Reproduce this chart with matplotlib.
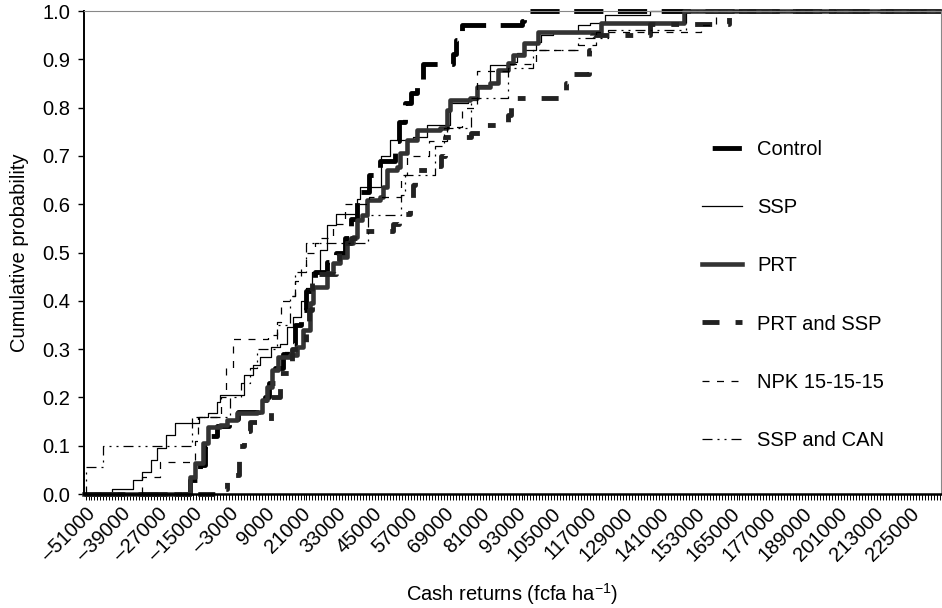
import numpy as np
import matplotlib.pyplot as plt

plt.rcParams['font.family'] = ['Liberation Sans', 'DejaVu Sans']
plt.rcParams['mathtext.default'] = 'regular'

# empirical CDFs: value where the step occurs (fcfa/ha) and probability after it
control_x = [-16000, -12500, -11000, -9500, -7000, -3000, 0, 7000, 9000, 10500, 12500, 15000,
             16500, 19000, 21000, 23000, 26000, 30000, 33000, 36000, 38000, 40000, 41000, 44000,
             47500, 52500, 54000, 56000, 58000, 60000, 62000, 72000, 73000, 75000, 95000, 96000]
control_y = [0.03, 0.06, 0.10, 0.12, 0.14, 0.155, 0.17, 0.18, 0.20, 0.23, 0.26, 0.29,
             0.31, 0.35, 0.38, 0.42, 0.46, 0.48, 0.50, 0.53, 0.57, 0.61, 0.625, 0.66,
             0.69, 0.73, 0.77, 0.81, 0.83, 0.85, 0.89, 0.91, 0.94, 0.97, 0.98, 1.0]

ssp_x = [-42000, -35000, -32000, -29000, -27000, -24000, -21000, -13000, -10000, -7000, -6000,
         2000, 5000, 7500, 11000, 14000, 16500, 18500, 21000, 23000, 25000, 27500, 30000, 33000,
         40000, 41000, 48000, 51000, 58800, 63500, 71000, 77000, 80000, 84600, 90600, 93600,
         95700, 100000, 101400, 105600, 113800, 118100, 123000, 138000]
ssp_y = [0.01, 0.03, 0.046, 0.07, 0.095, 0.122, 0.147, 0.16, 0.168, 0.19, 0.205,
         0.246, 0.267, 0.284, 0.304, 0.31, 0.346, 0.366, 0.40, 0.427, 0.46, 0.505, 0.557, 0.58,
         0.61, 0.636, 0.70, 0.733, 0.739, 0.764, 0.81, 0.816, 0.847, 0.888, 0.894, 0.913,
         0.919, 0.936, 0.95, 0.954, 0.971, 0.975, 0.992, 1.0]

prt_x = [-16000, -14300, -11600, -9900, -6000, -3600, -200, 6500, 8200, 9800, 11500, 13500,
         17500, 19900, 21900, 24300, 25300, 29900, 32000, 34300, 36700, 38700, 40000, 41700,
         43400, 47700, 48700, 50100, 53400, 54400, 56800, 60100, 67800, 70200, 71200, 77900,
         80200, 84600, 87000, 90600, 92300, 95700, 100400, 121500, 149300]
prt_y = [0.035, 0.064, 0.106, 0.139, 0.143, 0.153, 0.168, 0.17, 0.195, 0.222, 0.257, 0.284,
         0.288, 0.304, 0.34, 0.395, 0.429, 0.458, 0.478, 0.491, 0.52, 0.532, 0.567, 0.578,
         0.609, 0.615, 0.636, 0.671, 0.677, 0.706, 0.733, 0.754, 0.758, 0.795, 0.816, 0.82,
         0.843, 0.851, 0.878, 0.892, 0.909, 0.934, 0.956, 0.975, 1.0]

prt_ssp_x = [-6000, -3500, -1000, 500, 2000, 4000, 11000, 14000, 18000, 23000, 24000, 25000,
             33000, 34000, 38000, 40000, 52000, 54000, 57800, 58500, 59400, 64000, 68000, 69500,
             78000, 83000, 90500, 91500, 110000, 111500, 117500, 118500, 138000, 164500]
prt_ssp_y = [0.01, 0.025, 0.04, 0.10, 0.13, 0.15, 0.20, 0.25, 0.30, 0.34, 0.38, 0.455,
             0.48, 0.52, 0.53, 0.545, 0.56, 0.58, 0.61, 0.64, 0.67, 0.68, 0.70, 0.74,
             0.747, 0.765, 0.785, 0.82, 0.85, 0.87, 0.92, 0.95, 0.973, 1.0]

npk_x = [-32000, -26000, -14300, -13500, -5500, -4000, -1500, 10000, 13000, 14500, 18000, 19000,
         21000, 23000, 26000, 28000, 32000, 36000, 44000, 54500, 56800, 64000, 70000, 75000,
         80000, 91000, 100000, 114000, 120000, 155000, 160000]
npk_y = [0.035, 0.066, 0.11, 0.16, 0.20, 0.26, 0.32, 0.33, 0.356, 0.40, 0.41, 0.44,
         0.468, 0.50, 0.52, 0.53, 0.56, 0.60, 0.615, 0.66, 0.70, 0.73, 0.76, 0.80,
         0.876, 0.89, 0.919, 0.93, 0.957, 0.97, 1.0]

ssp_can_x = [-51000, -45000, -15500, -2500, 1000, 4000, 6500, 13000, 17500, 19000, 23000,
             43500, 54500, 56000, 66000, 69000, 78000, 90600, 99000, 113800, 124000, 150000]
ssp_can_y = [0.056, 0.10, 0.16, 0.20, 0.23, 0.26, 0.30, 0.35, 0.41, 0.46, 0.52,
             0.578, 0.62, 0.66, 0.72, 0.758, 0.82, 0.882, 0.92, 0.944, 0.96, 1.0]

x_min, x_max = -51500, 235500
tick_vals = np.arange(-51000, 235001, 1000)
label_vals = np.arange(-51000, 225001, 12000)
fs = 14.5

fig = plt.figure(figsize=(9.42, 6.08), dpi=100)
ax = fig.add_axes([0.0892, 0.1875, 0.9098, 0.7944])

series = [
    ('Control', control_x, control_y, dict(color='black', lw=3.5, ls=(6.9, (6, 3)))),
    ('SSP', ssp_x, ssp_y, dict(color='black', lw=0.9, ls='-')),
    ('PRT', prt_x, prt_y, dict(color='#333333', lw=3.3, ls='-')),
    ('PRT and SSP', prt_ssp_x, prt_ssp_y, dict(color='#222222', lw=3.5, ls=(0, (3.5, 3.3, 1.6, 3.3)))),
    ('NPK 15-15-15', npk_x, npk_y, dict(color='black', lw=0.9, ls=(0, (5.6, 6)))),
    ('SSP and CAN', ssp_can_x, ssp_can_y, dict(color='black', lw=0.9, ls=(0, (8, 4, 1.6, 4, 1.6, 4)))),
]

for name, xs, ys, style in series:
    xx = [x_min] + list(xs) + [x_max]
    yy = [0] + list(ys) + [ys[-1]]
    ax.plot(xx, yy, drawstyle='steps-post', label=name, clip_on=False, **style)

ax.set_xlim(x_min, x_max)
ax.set_ylim(0, 1)

def fmt(v):
    return ('\u2013%d' % -v) if v < 0 else '%d' % v

ax.set_xticks(tick_vals)
ax.set_xticklabels([fmt(v) if v in label_vals else '' for v in tick_vals])
for t in ax.get_xticklabels():
    t.set_rotation(45)
    t.set_ha('right')
    t.set_va('top')
    t.set_rotation_mode('anchor')
ax.tick_params(axis='x', length=4, width=0.7, pad=3, labelsize=fs)

ax.set_yticks(np.arange(0, 1.01, 0.1))
ax.set_yticklabels(['%.1f' % v for v in np.arange(0, 1.01, 0.1)])
ax.tick_params(axis='y', length=4.3, width=1, pad=5.5, labelsize=fs)

ax.spines['top'].set_color('#888888')
ax.spines['right'].set_color('#888888')
ax.spines['left'].set_linewidth(1.4)
ax.spines['bottom'].set_linewidth(1.8)

ax.set_xlabel('Cash returns (fcfa ha$^{-1}$)', fontsize=fs, labelpad=12)
ax.set_ylabel('Cumulative probability', fontsize=fs, labelpad=10)

ax.legend(loc='center left', bbox_to_anchor=(0.745, 0.515), bbox_transform=fig.transFigure,
          frameon=False, fontsize=fs, handlelength=2.0, handletextpad=0.75,
          labelspacing=1.95, borderpad=0, borderaxespad=0)

fig.savefig('out.png', dpi=100)
